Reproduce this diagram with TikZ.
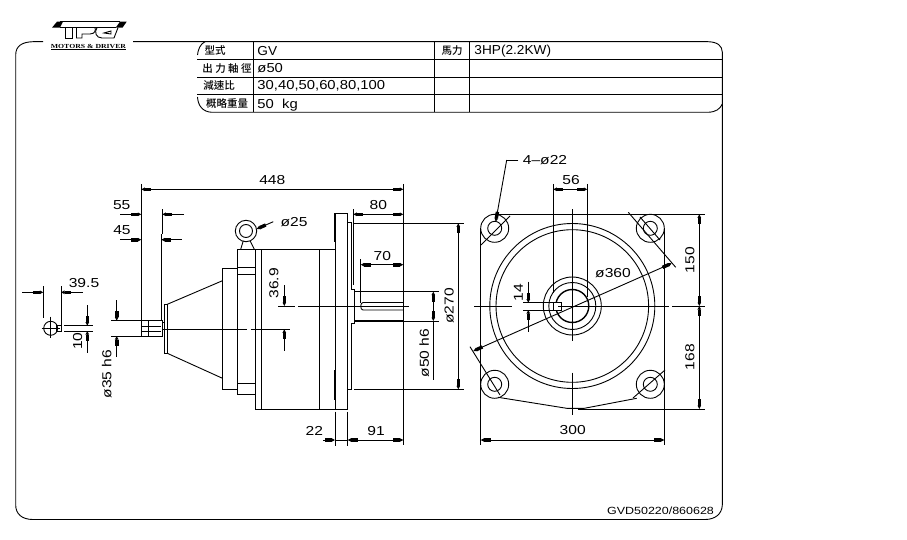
\documentclass[tikz,border=0pt]{standalone}
\usepackage{fontspec}
\setmainfont[FakeStretch=1.2]{Liberation Sans}
\newfontfamily\cjk{Noto Sans CJK TC Medium}
\newfontfamily\wide[FakeStretch=1.14]{Liberation Sans}
\newfontfamily\slim[FakeStretch=1.05]{Liberation Sans}
\newfontfamily\logofont[FakeStretch=1.25]{Liberation Serif}
\usetikzlibrary{arrows.meta}
\begin{document}
\begin{tikzpicture}[x=1pt,y=-1pt,line width=.9pt,line cap=butt,
    tick/.tip={Rectangle[length=6.5pt,width=3.4pt,sep=0pt]Triangle[length=3.5pt,width=3.4pt]},
    lab/.style={inner sep=0,font=\fontsize{13}{13}\selectfont},
    labv/.style={lab,rotate=90},
    cell/.style={inner sep=0,anchor=west,font=\fontsize{13}{13}\wide},
    slimcell/.style={cell,font=\fontsize{13}{13}\slim},
    head/.style={inner sep=0,font=\fontsize{10.5}{11}\cjk},
    heavy/.style={line width=1.8pt}]
\useasboundingbox (0,0) rectangle (907,540);
%frame
\draw (43,41.7) -- (33,41.7) .. controls (22,42) and (15.7,46) .. (15.7,55) -- (15.7,505)
    .. controls (15.7,514) and (22,519.5) .. (33,519.5) -- (705,519.5)
    .. controls (715,519.5) and (722,514) .. (722.3,505) -- (722.3,52)
    .. controls (722,46) and (718,42) .. (708,41.7) -- (133,41.7);
%table
\draw (205,41.7) .. controls (200,44) and (198,50) .. (197.5,55);
\draw (197.5,97) .. controls (198,106) and (203,112) .. (212,112.3) -- (708,112.3) .. controls (716,112) and (720,109) .. (722.3,104);
\foreach \y in {59.5,77,94.5}{
    \draw (197,\y) -- (722.3,\y);
}
\foreach \x in {253,434.5,469.3}{
    \draw (\x,41.7) -- (\x,112.3);
}
\foreach \x/\y/\t [count=\i] in {215/51/型式, 227/69/出 力 軸 徑, 219/86/減速比, 227/104/概略重量, 452/51/馬力}{
    \node[head] (head\i) at (\x,\y){\t};
}
\node[slimcell] (cell1) at (257,51){GV};
\node[cell] (cell2) at (257,68.5){ø50};
\node[cell] (cell3) at (257,85.5){30,40,50,60,80,100};
\node[cell] (cell4) at (257,105){50\ \ kg};
\node[slimcell] (cell5) at (474,51.5){3HP(2.2KW)};
%logo
\fill (52,27.7) -- (57,21.7) -- (63,21.7) -- (60,27.7) -- cycle;
\fill (115.7,27.7) -- (120,21.7) -- (126.7,21.7) -- (122.5,27.7) -- cycle;
\draw (60,21.7) -- (120,21.7);
\draw (60,27.7) -- (116,27.7);
\draw (65,27.7) -- (65,38) -- (72,38) -- (72,27.7);
\draw (76.5,27.7) -- (76.5,38) -- (82,38) -- (82,34) -- (90,34) .. controls (95,34) and (96,30) .. (95,27.7);
\draw (97,27.7) .. controls (94,32) and (96,38) .. (102,38) -- (114,38) -- (118,27.7);
\draw (104,33) -- (111,31) -- (111,34) -- cycle;
\node[inner sep=0,font=\fontsize{6.2}{7}\bfseries\logofont] (logotext) at (88.5,46){MOTORS \& DRIVER};
\draw (51,49.7) -- (126,49.7);
%side view: gear head
\draw (141.3,320.7) rectangle (162.5,336);
\draw (141,326) -- (161,326);
\draw (141,331) -- (161,331);
\draw (148,320.7) -- (148,336);
\draw (164.3,304.3) rectangle (167.3,353.3);
\draw (162.5,322) -- (164.3,322);
\draw (167.3,304.3) -- (222.5,280.7);
\draw (167.3,353.3) -- (222.5,378.3);
\draw (222.5,268.3) rectangle (237.3,389.3);
\draw (237.3,249.3) rectangle (255.3,394.3);
\foreach \y in {267.3,274.3,383.3}{
    \draw (237.3,\y) -- (255.3,\y);
}
%side view: motor and flange
\draw (255.3,249.3) rectangle (335,409.3);
\foreach \x in {261.7,319.3}{
    \draw (\x,249.3) -- (\x,409.3);
}
\draw (335,213.3) rectangle (347.7,409.3);
\draw[heavy] (335,213.3) -- (335,241.7);
\draw[heavy] (335,370) -- (335,400);
\draw (347.7,222.7) -- (351,222.7) -- (351,289.3) -- (354.3,289.3) -- (354.3,323.3) -- (351,323.3) -- (351,389.3) -- (347.7,389.3);
\draw (354.3,291.7) -- (403.3,291.7);
\draw (354.3,320) -- (403.3,320);
\draw (403.3,302.5) -- (363,302.5) .. controls (360,302.5) and (360,310) .. (363,310) -- (403.3,310);
%eye bolt
\draw (246,231) circle (10.7);
\draw (246,231) circle (6.5);
\draw (243.3,240.7) -- (240.7,249.3);
\draw (250,240.7) -- (254.3,249.3);
%center lines
\draw (162,329.3) -- (247.3,329.3);
\draw (250.7,329.3) -- (290,329.3);
\draw (278.3,306) -- (295,306);
\draw (298.3,306) -- (409,306);
%small shaft end
\draw (50.7,328.3) circle (7);
\draw (41.7,328.3) -- (60,328.3);
\draw (50.7,316.7) -- (50.7,337.7);
\draw (56,325) rectangle (61.7,331.7);
%extension lines
\foreach \xa/\ya/\xb/\yb in {
    141.3/184/141.3/320.7, 162.3/209/162.3/234, 403.3/184/403.3/445, 43.3/286/43.3/318, 61/286/61/325,
    64/325.7/92.7/325.7, 64/331/92.7/331, 111/320.7/141.3/320.7, 111/336/141.3/336,
    353.3/209.3/353.3/285, 360.7/259.3/360.7/303, 354/223.3/464/223.3, 354/389.3/464/389.3,
    354/291.7/439.3/291.7, 354/321/439.3/321, 335/411.7/335/445.7, 347.7/411.7/347.7/445.7,
    553.3/184/553.3/293, 587.3/184/587.3/297, 523.3/302.7/553.3/302.7, 523.3/310/553.3/310,
    433.3/321/433.3/380
}{
    \draw (\xa,\ya) -- (\xb,\yb);
}
\draw[heavy] (161.5,234) -- (161.5,320.7);
%dimension lines, tips inside
\foreach \xa/\ya/\xb/\yb in {
    141.3/189.3/403.3/189.3, 353.3/214.3/403.3/214.3, 360.7/264.7/403.3/264.7, 347.7/440/403.3/440,
    458.3/223.3/458.3/389.3, 553.3/189.3/587.3/189.3, 480.7/440/664.3/440,
    699.3/214.3/699.3/306, 699.3/306/699.3/409, 473.3/351/671.7/263.3, 433.3/291.7/433.3/321
}{
    \draw[{tick}-{tick}] (\xa,\ya) -- (\xb,\yb);
}
%dimension lines, tips from outside
\foreach \xa/\ya/\xb/\yb in {
    120/214.3/141.3/214.3, 184/214.3/162.3/214.3, 120/239.7/141.3/239.7, 181.7/239.7/161.3/239.7,
    22/292.3/43.3/292.3, 82.7/292.3/61/292.3, 87.3/305/87.3/325.7, 87.3/352.7/87.3/331,
    116.7/300/116.7/320.7, 116.7/357/116.7/336, 284.3/285/284.3/306, 284.3/350.7/284.3/329.3,
    323/440/335/440, 528.3/281.7/528.3/302.7, 528.3/331.7/528.3/310,
    273.3/221.7/256.6/229
}{
    \draw[-{tick}] (\xa,\ya) -- (\xb,\yb);
}
\draw (335,440) -- (347.7,440);
%front view
\draw (480.7,228.3) -- (480.7,445);
\draw (664.3,228.3) -- (664.3,445);
\draw (498,214.3) -- (705,214.3);
\draw (578,409) -- (705,409);
\draw (498,397.3) -- (566.7,408.3) -- (584.3,408.3) -- (636.7,398.3);
\foreach \x/\y in {494.7/228.3, 650.3/228.3, 494.7/384.3, 650.3/384.3}{
    \draw (\x,\y) circle (14);
    \draw (\x,\y) circle (7);
}
\foreach \r in {82.5,76.3,29,23.5}{
    \draw (572.3,306) circle (\r);
}
\draw[line width=1.4pt] (572.3,306) circle (16.5);
\draw[fill=white] (553.3,302.3) rectangle (561,310);
\draw (474.3,306) -- (511.7,306);
\draw (558,306) -- (669,306);
\draw (672.3,306) -- (705,306);
\draw (572.3,209) -- (572.3,340.7);
\draw (572.3,372.7) -- (572.3,415);
\draw (628.3,212.3) -- (675.7,267.3);
\draw (470,346.7) -- (500,395);
\draw (481,245) -- (510,216);
\draw (633,398) -- (665,370);
\draw (640,217) -- (660,240);
\draw (518.3,160) -- (506.7,160);
\draw[-{tick}] (506.7,160) -- (495.7,221.7);
%labels
\foreach \x/\y/\t [count=\i] in {
    272.3/180/448, 121.7/205/55, 122/230/45, 84/282.7/39.5, 378.3/205/80, 382.3/256/70,
    294/221.7/ø25, 314.3/430.7/22, 376/430.7/91, 571/180/56, 613/272.7/ø360, 572.7/430/300,
    545/160/4–ø22
}{
    \node[lab] (lab\i) at (\x,\y){\t};
}
\foreach \x/\y/\t [count=\i] in {
    77.7/341/10, 106.7/374/ø35 h6, 274/283.3/36.9, 449.3/306/ø270, 424.3/353/ø50 h6,
    518.3/292.7/14, 690/260/150, 690/357.3/168
}{
    \node[labv] (labv\i) at (\x,\y){\t};
}
\node[inner sep=0,font=\fontsize{10.4}{11}\selectfont] (drawno) at (660.5,510.7){GVD50220/860628};
\end{tikzpicture}
\end{document}
